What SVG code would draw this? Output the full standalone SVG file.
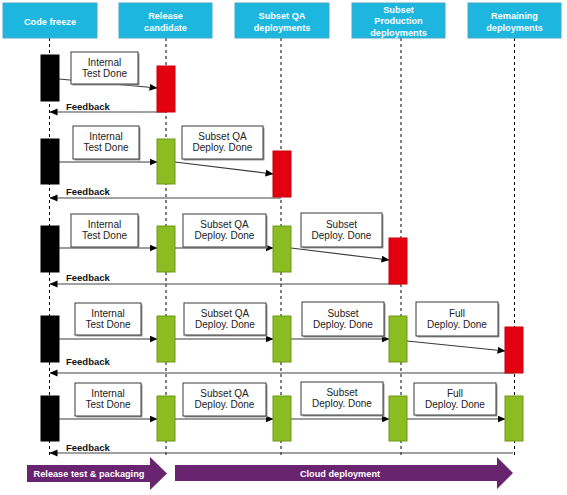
<svg xmlns="http://www.w3.org/2000/svg" width="567" height="495" viewBox="0 0 567 495">
<defs>
<style>
.hdr rect{fill:#1cb6df;stroke:#4aa8c8;stroke-width:1}
.hdr text{fill:#fff;font-family:"Liberation Sans",Arial,sans-serif;font-size:9.2px;font-weight:bold;text-anchor:middle}
.life{stroke:#000;stroke-width:1;stroke-dasharray:3,3;fill:none}
.blk{fill:#000;stroke:#000}
.red{fill:#e3000f;stroke:#c8000c;stroke-width:1}
.grn{fill:#8bbc21;stroke:#6c9a16;stroke-width:1}
.lbl rect.b{fill:#fff;stroke:#3a3a3a;stroke-width:1}
.lbl rect.s{fill:#9a9a9a}
.lbl text{fill:#222;font-family:"Liberation Sans",Arial,sans-serif;font-size:10px;text-anchor:middle}
.msg{stroke:#3a3a3a;stroke-width:1.2;fill:none;marker-end:url(#ah)}
.fb{stroke:#444;stroke-width:1.2;fill:none;marker-end:url(#ah)}
.fbt{fill:#111;font-family:"Liberation Sans",Arial,sans-serif;font-size:9.5px;font-weight:bold}
.ph{fill:#68246f}
.pht{fill:#fff;font-family:"Liberation Sans",Arial,sans-serif;font-size:9.2px;font-weight:bold;text-anchor:middle}
</style>
<marker id="ah" markerUnits="userSpaceOnUse" markerWidth="8" markerHeight="8" refX="7.5" refY="3.5" orient="auto">
<path d="M0,0 L8,3.5 L0,7 z" fill="#000"/>
</marker>
</defs>
<rect width="567" height="495" fill="#fff"/>

<g id="lifelines">
<line class="life" x1="49.5" y1="38" x2="49.5" y2="456"/>
<line class="life" x1="166" y1="38" x2="166" y2="456"/>
<line class="life" x1="281" y1="38" x2="281" y2="456"/>
<line class="life" x1="401" y1="38" x2="401" y2="456"/>
<line class="life" x1="514.5" y1="38" x2="514.5" y2="456"/>
</g>

<g id="hdr-code-freeze" class="hdr"><rect x="3" y="3" width="94" height="35"/><text x="50" y="24.5">Code freeze</text></g>
<g id="hdr-release-candidate" class="hdr"><rect x="119" y="3" width="93" height="35"/><text x="165.5" y="19">Release</text><text x="165.5" y="30.5">candidate</text></g>
<g id="hdr-subset-qa" class="hdr"><rect x="235" y="3" width="94" height="35"/><text x="282" y="19">Subset QA</text><text x="282" y="30.5">deployments</text></g>
<g id="hdr-subset-prod" class="hdr"><rect x="352" y="3" width="93" height="35"/><text x="398.5" y="12.7">Subset</text><text x="398.5" y="24.4">Production</text><text x="398.5" y="36">deployments</text></g>
<g id="hdr-remaining" class="hdr"><rect x="468" y="3" width="93" height="35"/><text x="514.5" y="19">Remaining</text><text x="514.5" y="30.5">deployments</text></g>

<g id="connectors">
<line class="msg" x1="59" y1="79" x2="157" y2="88"/>
<line class="fb" x1="166" y1="112" x2="50" y2="112"/>

<line class="msg" x1="59" y1="162" x2="157" y2="162"/>
<line class="msg" x1="175" y1="162" x2="273" y2="174"/>
<line class="fb" x1="281" y1="198" x2="50" y2="198"/>

<line class="msg" x1="59" y1="248" x2="157" y2="248"/>
<line class="msg" x1="175" y1="248" x2="273" y2="248"/>
<line class="msg" x1="291" y1="248" x2="389" y2="260"/>
<line class="fb" x1="401" y1="284" x2="50" y2="284"/>

<line class="msg" x1="59" y1="339" x2="157" y2="339"/>
<line class="msg" x1="175" y1="339" x2="273" y2="339"/>
<line class="msg" x1="291" y1="339" x2="389" y2="339"/>
<line class="msg" x1="407" y1="341" x2="505" y2="351"/>
<line class="fb" x1="514" y1="373" x2="50" y2="373"/>

<line class="msg" x1="59" y1="419" x2="157" y2="419"/>
<line class="msg" x1="175" y1="419" x2="273" y2="419"/>
<line class="msg" x1="291" y1="419" x2="389" y2="419"/>
<line class="msg" x1="407" y1="419" x2="505" y2="419"/>
<line class="fb" x1="513" y1="453" x2="50" y2="453"/>

<text class="fbt" x="66" y="110">Feedback</text>
<text class="fbt" x="66" y="194.5">Feedback</text>
<text class="fbt" x="66" y="280.5">Feedback</text>
<text class="fbt" x="66" y="365">Feedback</text>
<text class="fbt" x="66" y="450.5">Feedback</text>
</g>

<g id="r1-cf"><rect class="blk" x="41" y="55" width="18" height="46"/></g>
<g id="r1-rc"><rect class="red" x="157" y="66" width="18" height="46"/></g>

<g id="r2-cf"><rect class="blk" x="41" y="139" width="18" height="45"/></g>
<g id="r2-rc"><rect class="grn" x="157" y="139" width="18" height="45"/></g>
<g id="r2-qa"><rect class="red" x="273" y="151" width="18" height="46"/></g>

<g id="r3-cf"><rect class="blk" x="41" y="226" width="18" height="46"/></g>
<g id="r3-rc"><rect class="grn" x="157" y="226" width="18" height="46"/></g>
<g id="r3-qa"><rect class="grn" x="273" y="226" width="18" height="46"/></g>
<g id="r3-sp"><rect class="red" x="389" y="238" width="18" height="46"/></g>

<g id="r4-cf"><rect class="blk" x="41" y="316" width="18" height="46"/></g>
<g id="r4-rc"><rect class="grn" x="157" y="316" width="18" height="46"/></g>
<g id="r4-qa"><rect class="grn" x="273" y="316" width="18" height="46"/></g>
<g id="r4-sp"><rect class="grn" x="389" y="316" width="18" height="46"/></g>
<g id="r4-rem"><rect class="red" x="505" y="327" width="18" height="46"/></g>

<g id="r5-cf"><rect class="blk" x="41" y="396" width="18" height="45"/></g>
<g id="r5-rc"><rect class="grn" x="157" y="396" width="18" height="45"/></g>
<g id="r5-qa"><rect class="grn" x="273" y="396" width="18" height="45"/></g>
<g id="r5-sp"><rect class="grn" x="389" y="396" width="18" height="45"/></g>
<g id="r5-rem"><rect class="grn" x="505" y="396" width="18" height="45"/></g>

<g id="labels" class="lbl">
<g id="l1a"><rect class="s" x="72.5" y="53.5" width="67" height="32"/><rect class="b" x="71" y="52" width="67" height="32"/><text x="104.5" y="65.5">Internal</text><text x="104.5" y="76.5">Test Done</text></g>

<g id="l2a"><rect class="s" x="74.5" y="127.5" width="66" height="33"/><rect class="b" x="73" y="126" width="66" height="33"/><text x="106" y="140">Internal</text><text x="106" y="151">Test Done</text></g>
<g id="l2b"><rect class="s" x="183.5" y="127.5" width="81" height="33"/><rect class="b" x="182" y="126" width="81" height="33"/><text x="222.5" y="140">Subset QA</text><text x="222.5" y="151">Deploy. Done</text></g>

<g id="l3a"><rect class="s" x="72.5" y="215.5" width="67" height="33"/><rect class="b" x="71" y="214" width="67" height="33"/><text x="104.5" y="228">Internal</text><text x="104.5" y="239">Test Done</text></g>
<g id="l3b"><rect class="s" x="184.5" y="215.5" width="83" height="33"/><rect class="b" x="183" y="214" width="83" height="33"/><text x="224.5" y="228">Subset QA</text><text x="224.5" y="239">Deploy. Done</text></g>
<g id="l3c"><rect class="s" x="302.5" y="214.5" width="81" height="34"/><rect class="b" x="301" y="213" width="81" height="34"/><text x="341.5" y="227.5">Subset</text><text x="341.5" y="238.5">Deploy. Done</text></g>

<g id="l4a"><rect class="s" x="76.5" y="304.5" width="66" height="32"/><rect class="b" x="75" y="303" width="66" height="32"/><text x="108" y="316.5">Internal</text><text x="108" y="327.5">Test Done</text></g>
<g id="l4b"><rect class="s" x="185.5" y="304.5" width="82" height="32"/><rect class="b" x="184" y="303" width="82" height="32"/><text x="225" y="316.5">Subset QA</text><text x="225" y="327.5">Deploy. Done</text></g>
<g id="l4c"><rect class="s" x="303.5" y="303.5" width="82" height="34"/><rect class="b" x="302" y="302" width="82" height="34"/><text x="343" y="316.5">Subset</text><text x="343" y="327.5">Deploy. Done</text></g>
<g id="l4d"><rect class="s" x="417.5" y="303.5" width="82" height="34"/><rect class="b" x="416" y="302" width="82" height="34"/><text x="457" y="316.5">Full</text><text x="457" y="327.5">Deploy. Done</text></g>

<g id="l5a"><rect class="s" x="76.5" y="384.5" width="66" height="33"/><rect class="b" x="75" y="383" width="66" height="33"/><text x="108" y="397">Internal</text><text x="108" y="408">Test Done</text></g>
<g id="l5b"><rect class="s" x="184.5" y="384.5" width="83" height="33"/><rect class="b" x="183" y="383" width="83" height="33"/><text x="224.5" y="397">Subset QA</text><text x="224.5" y="408">Deploy. Done</text></g>
<g id="l5c"><rect class="s" x="302.5" y="383.5" width="82" height="33"/><rect class="b" x="301" y="382" width="82" height="33"/><text x="342" y="396">Subset</text><text x="342" y="407">Deploy. Done</text></g>
<g id="l5d"><rect class="s" x="415.5" y="384.5" width="82" height="32"/><rect class="b" x="414" y="383" width="82" height="32"/><text x="455" y="396.5">Full</text><text x="455" y="407.5">Deploy. Done</text></g>
</g>

<g id="phase-release">
<polygon class="ph" points="27,465 150,465 150,457 167,473.5 150,490 150,482 27,482"/>
<text class="pht" x="89" y="477">Release test &amp; packaging</text>
</g>
<g id="phase-cloud">
<polygon class="ph" points="175,465 497,465 497,457 513,473 497,489 497,481 175,481"/>
<text class="pht" x="340" y="476.5">Cloud deployment</text>
</g>
</svg>
